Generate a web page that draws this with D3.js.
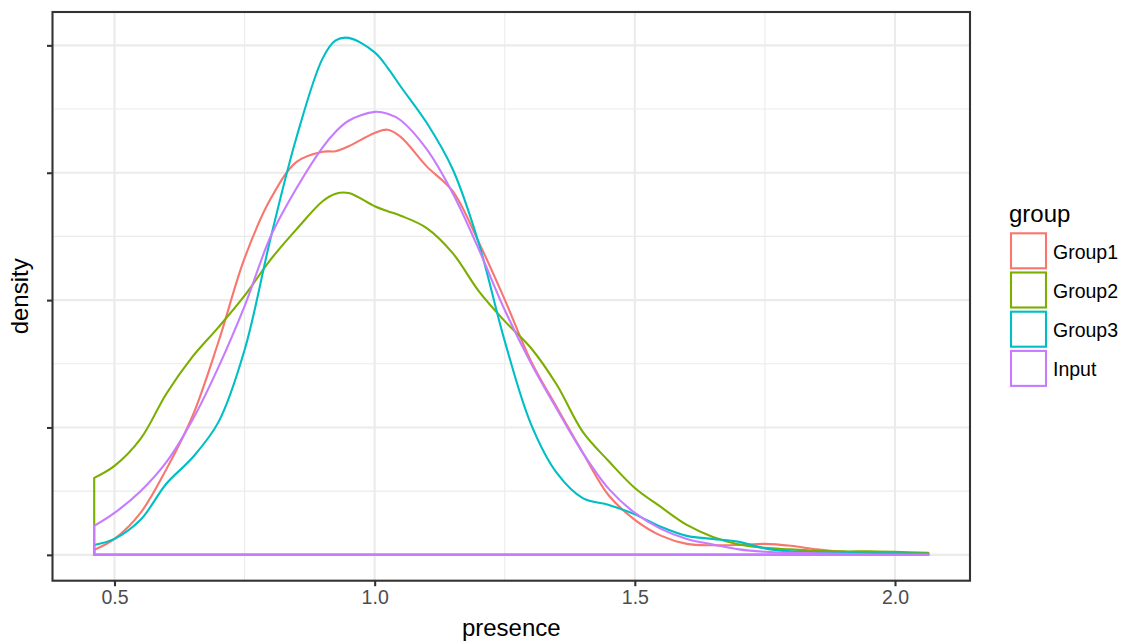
<!DOCTYPE html>
<html>
<head>
<meta charset="utf-8">
<script src="https://cdn.jsdelivr.net/npm/d3@7"></script>
<style>
  html, body { margin: 0; padding: 0; background: #ffffff; }
  svg { display: block; font-family: "Liberation Sans", Arial, Helvetica, sans-serif; }
</style>
</head>
<body>
<svg id="chart" width="1124" height="641"></svg>
<script>
// ---- data ----
const presence = [0.461, 0.5, 0.55, 0.6, 0.65, 0.7, 0.75, 0.8, 0.85, 0.9, 0.925, 0.95, 1.0, 1.025, 1.05, 1.1, 1.15, 1.2, 1.25, 1.3, 1.35, 1.4, 1.45, 1.5, 1.55, 1.6, 1.65, 1.7, 1.75, 1.8, 1.85, 1.9, 1.95, 2.0, 2.064];
const group1 = [0.039,0.125,0.329,0.675,1.090,1.675,2.329,2.795,3.085,3.165,3.169,3.208,3.312,3.338,3.282,3.05,2.855,2.455,2.004,1.525,1.158,0.802,0.466,0.275,0.151,0.086,0.075,0.078,0.086,0.071,0.043,0.024,0.016,0.012,0.008];
const group2 = [0.604,0.698,0.910,1.267,1.556,1.788,2.035,2.318,2.557,2.776,2.835,2.841,2.737,2.698,2.663,2.566,2.369,2.071,1.835,1.626,1.335,0.965,0.735,0.525,0.376,0.235,0.141,0.082,0.055,0.043,0.031,0.027,0.027,0.024,0.016];
const group3 = [0.078,0.125,0.275,0.560,0.764,1.044,1.608,2.486,3.281,3.898,4.039,4.059,3.945,3.824,3.677,3.392,3.027,2.447,1.678,1.031,0.643,0.445,0.392,0.318,0.220,0.149,0.125,0.102,0.051,0.027,0.020,0.016,0.012,0.012,0.008];
const input  = [0.227,0.329,0.499,0.729,1.060,1.476,1.953,2.499,2.880,3.200,3.322,3.408,3.478,3.463,3.412,3.185,2.839,2.400,1.922,1.508,1.145,0.801,0.518,0.329,0.204,0.125,0.082,0.043,0.024,0.016,0.012,0.008,0.004,0.002,0.002];
const groupNames = ["Group1", "Group2", "Group3", "Input"];
const groupColors = ["#F8766D", "#7CAE00", "#00BFC4", "#C77CFF"];
const xTicks = [0.5, 1.0, 1.5, 2.0];
const xTickLabels = ["0.5", "1.0", "1.5", "2.0"];
const xMinor = [0.75, 1.25, 1.75];
const yTicks = [0, 1, 2, 3, 4];
const yMinor = [0.5, 1.5, 2.5, 3.5];

const series = [group1, group2, group3, input];

// ---- layout ----
const svg = d3.select("#chart");
const P = { left: 52.5, top: 12, right: 970, bottom: 580.7 };

const xMin = d3.min(presence), xMax = d3.max(presence);
const xPad = (xMax - xMin) * 0.05;
const x = d3.scaleLinear().domain([xMin - xPad, xMax + xPad]).range([P.left, P.right]);
const yMaxVal = d3.max(series.flat());
const yPad = yMaxVal * 0.05;
const y = d3.scaleLinear().domain([-yPad, yMaxVal + yPad]).range([P.bottom, P.top]);

// grid
const grid = svg.append("g");
grid.selectAll(".ymin").data(yMinor).enter().append("line")
  .attr("x1", P.left).attr("x2", P.right).attr("y1", d => y(d)).attr("y2", d => y(d))
  .attr("stroke", "#EBEBEB").attr("stroke-width", 1.1);
grid.selectAll(".xmin").data(xMinor).enter().append("line")
  .attr("y1", P.top).attr("y2", P.bottom).attr("x1", d => x(d)).attr("x2", d => x(d))
  .attr("stroke", "#EBEBEB").attr("stroke-width", 1.1);
grid.selectAll(".ymaj").data(yTicks).enter().append("line")
  .attr("x1", P.left).attr("x2", P.right).attr("y1", d => y(d)).attr("y2", d => y(d))
  .attr("stroke", "#EBEBEB").attr("stroke-width", 2.1);
grid.selectAll(".xmaj").data(xTicks).enter().append("line")
  .attr("y1", P.top).attr("y2", P.bottom).attr("x1", d => x(d)).attr("x2", d => x(d))
  .attr("stroke", "#EBEBEB").attr("stroke-width", 2.1);

// density outlines
const line = d3.line().x(d => x(d[0])).y(d => y(d[1])).curve(d3.curveCatmullRom.alpha(0.5));
series.forEach((vals, i) => {
  const pts = presence.map((p, k) => [p, vals[k]]);
  const body = line(pts).slice(1);
  const d = `M${x(xMin)},${y(0)}L${body}L${x(xMax)},${y(0)}Z`;
  svg.append("path").attr("d", d).attr("fill", "none")
    .attr("stroke", groupColors[i]).attr("stroke-width", 2.1).attr("stroke-linejoin", "round");
});

// panel border
svg.append("rect").attr("x", P.left).attr("y", P.top)
  .attr("width", P.right - P.left).attr("height", P.bottom - P.top)
  .attr("fill", "none").attr("stroke", "#333333").attr("stroke-width", 2.1);

// axes
const xAxis = d3.axisBottom(x).tickValues(xTicks).tickFormat((d, i) => xTickLabels[i]).tickSize(5.5).tickPadding(4);
const gx = svg.append("g").attr("transform", `translate(0,${P.bottom})`).call(xAxis);
gx.select(".domain").remove();
gx.selectAll(".tick line").attr("stroke", "#333333").attr("stroke-width", 2.1);
gx.selectAll(".tick text").attr("fill", "#4D4D4D").attr("font-size", "19.5px")
  .attr("font-family", "Liberation Sans, Arial, sans-serif");

const yAxis = d3.axisLeft(y).tickValues(yTicks).tickFormat(() => "").tickSize(5.5);
const gy = svg.append("g").attr("transform", `translate(${P.left},0)`).call(yAxis);
gy.select(".domain").remove();
gy.selectAll(".tick line").attr("stroke", "#333333").attr("stroke-width", 2.1);

// axis titles
svg.append("text").attr("x", (P.left + P.right) / 2).attr("y", 636)
  .attr("text-anchor", "middle").attr("font-size", "24px").attr("fill", "#000").text("presence");
svg.append("text").attr("transform", `translate(28,${(P.top + P.bottom) / 2}) rotate(-90)`)
  .attr("text-anchor", "middle").attr("font-size", "24px").attr("fill", "#000").text("density");

// legend
const lg = svg.append("g");
lg.append("text").attr("x", 1009).attr("y", 221.5).attr("font-size", "24px").attr("fill", "#000").text("group");
groupNames.forEach((name, i) => {
  const top = 233.3 + i * 39.2;
  lg.append("rect").attr("x", 1011).attr("y", top).attr("width", 35).attr("height", 35)
    .attr("fill", "none").attr("stroke", groupColors[i]).attr("stroke-width", 2.1);
  lg.append("text").attr("x", 1053).attr("y", top + 25.5).attr("font-size", "19.5px")
    .attr("fill", "#000").text(name);
});
</script>
</body>
</html>
